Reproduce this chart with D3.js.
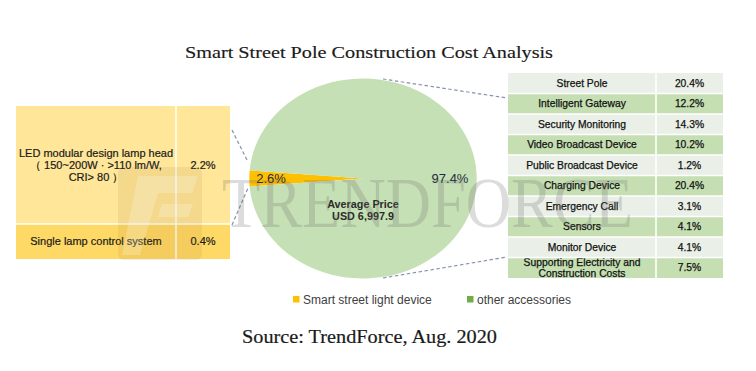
<!DOCTYPE html>
<html>
<head>
<meta charset="utf-8">
<script src="https://cdn.jsdelivr.net/npm/d3@7"></script>
<style>
html,body{margin:0;padding:0;background:#fff;}
svg{display:block;}
</style>
</head>
<body>
<svg id="chart" width="756" height="371"></svg>
<script>
// ---- data ----
const pieCategories = ["Smart street light device", "other accessories"];
const pieValues = [2.6, 97.4];
const centerLabel = ["Average Price", "USD 6,997.9"];

const lightItems = [
  ["LED modular design lamp head", "（ 150~200W · >110 lm/W,", "CRI> 80 ）"],
  ["Single lamp control system"]
];
const lightValues = [2.2, 0.4];

const accessoryItems = [
  ["Street Pole"],
  ["Intelligent Gateway"],
  ["Security Monitoring"],
  ["Video Broadcast Device"],
  ["Public Broadcast Device"],
  ["Charging Device"],
  ["Emergency Call"],
  ["Sensors"],
  ["Monitor Device"],
  ["Supporting Electricity and", "Construction Costs"]
];
const accessoryValues = [20.4, 12.2, 14.3, 10.2, 1.2, 20.4, 3.1, 4.1, 4.1, 7.5];

const titleText = "Smart Street Pole Construction Cost Analysis";
const sourceText = "Source: TrendForce, Aug. 2020";
const watermarkText = "TRENDFORCE";

// ---- drawing ----
const svg = d3.select("#chart");
const SANS = "'Liberation Sans', Arial, sans-serif";
const SERIF = "'Liberation Serif', 'Times New Roman', serif";
const pieColors = d3.scaleOrdinal().domain(pieCategories).range(["#FFC000", "#C5E0B4"]);
const legendColors = d3.scaleOrdinal().domain(pieCategories).range(["#FFC000", "#70AD47"]);
const fmt = v => d3.format(".1f")(v) + "%";

// title
svg.append("text").attr("x", 185).attr("y", 58)
  .attr("font-family", SERIF).attr("font-size", 17).attr("fill", "#1a1a1a")
  .attr("stroke", "#1a1a1a").attr("stroke-width", 0.15)
  .attr("textLength", 368).attr("lengthAdjust", "spacingAndGlyphs")
  .text(titleText);

// ---- left table (smart street light device breakdown) ----
const lx0 = 16, lx1 = 230, lDiv = 176;
const lRowEdges = [106, 224, 259];
const lColors = ["#FFE699", "#FFD966"];
const lg = svg.append("g");
lightItems.forEach((lines, i) => {
  const y0 = lRowEdges[i], y1 = lRowEdges[i + 1];
  lg.append("rect").attr("x", lx0).attr("y", y0).attr("width", lx1 - lx0).attr("height", y1 - y0)
    .attr("fill", lColors[i]);
  const cy = (y0 + y1) / 2;
  const lh = 11.8;
  lines.forEach((t, j) => {
    lg.append("text").attr("x", (lx0 + lDiv) / 2).attr("y", cy + (j - (lines.length - 1) / 2) * lh)
      .attr("dy", "0.35em").attr("text-anchor", "middle")
      .attr("font-family", SANS).attr("font-size", 11).attr("fill", "#1a1a1a")
      .attr("stroke", "#1a1a1a").attr("stroke-width", 0.2).text(t);
  });
  lg.append("text").attr("x", (lDiv + lx1) / 2).attr("y", cy).attr("dy", "0.35em")
    .attr("text-anchor", "middle").attr("font-family", SANS).attr("font-size", 11)
    .attr("fill", "#1a1a1a").attr("stroke", "#1a1a1a").attr("stroke-width", 0.2)
    .text(fmt(lightValues[i]));
});
lg.append("line").attr("x1", lDiv).attr("x2", lDiv).attr("y1", lRowEdges[0]).attr("y2", lRowEdges[2])
  .attr("stroke", "#fff").attr("stroke-width", 1.5);
lg.append("line").attr("x1", lx0).attr("x2", lx1).attr("y1", lRowEdges[1]).attr("y2", lRowEdges[1])
  .attr("stroke", "#fff").attr("stroke-width", 1.5);

// ---- right table (other accessories breakdown) ----
const rx0 = 508, rx1 = 723, rDiv = 656;
const yBand = d3.scaleBand().domain(d3.range(accessoryItems.length)).range([73, 278]).paddingInner(0);
const rColors = ["#EAEFE7", "#C5DFB3"];
const rg = svg.append("g");
accessoryItems.forEach((lines, i) => {
  const y0 = yBand(i), h = yBand.bandwidth(), cy = y0 + h / 2;
  rg.append("rect").attr("x", rx0).attr("y", y0).attr("width", rx1 - rx0).attr("height", h)
    .attr("fill", rColors[i % 2]);
  const lh = 11;
  lines.forEach((t, j) => {
    rg.append("text").attr("x", (rx0 + rDiv) / 2).attr("y", cy + (j - (lines.length - 1) / 2) * lh)
      .attr("dy", "0.35em").attr("text-anchor", "middle")
      .attr("font-family", SANS).attr("font-size", 10.3).attr("fill", "#111")
      .attr("stroke", "#111").attr("stroke-width", 0.25).text(t);
  });
  rg.append("text").attr("x", (rDiv + rx1) / 2).attr("y", cy).attr("dy", "0.35em")
    .attr("text-anchor", "middle").attr("font-family", SANS).attr("font-size", 10.3)
    .attr("fill", "#111").attr("stroke", "#111").attr("stroke-width", 0.25)
    .text(fmt(accessoryValues[i]));
  if (i > 0) {
    rg.append("line").attr("x1", rx0).attr("x2", rx1).attr("y1", y0).attr("y2", y0)
      .attr("stroke", "#fff").attr("stroke-width", 1.6);
  }
});
rg.append("line").attr("x1", rDiv).attr("x2", rDiv).attr("y1", 73).attr("y2", 278)
  .attr("stroke", "#fff").attr("stroke-width", 1.6);

// ---- pie (elliptical) ----
const cx = 363, cy = 178.5, pr = 100, sx = 1.137;
const half = pieValues[0] / d3.sum(pieValues) * Math.PI;
const pie = d3.pie().sort(null).value(d => d)
  .startAngle(-Math.PI / 2 - half).endAngle(-Math.PI / 2 - half + 2 * Math.PI);
const arcs = pie(pieValues);
const arc = d3.arc().innerRadius(0).outerRadius(pr);
const pg = svg.append("g").attr("transform", `translate(${cx},${cy}) scale(${sx},1)`);
pg.selectAll("path").data(arcs).join("path")
  .attr("d", arc).attr("fill", (d, i) => pieColors(pieCategories[i]));

// connector dashed lines
const dash = (x1, y1, x2, y2) => svg.append("line")
  .attr("x1", x1).attr("y1", y1).attr("x2", x2).attr("y2", y2)
  .attr("stroke", "#8593AA").attr("stroke-width", 1.2).attr("stroke-dasharray", "3.5,2.5");
dash(232, 130, 248, 162);
dash(232, 225, 248, 188);
dash(383, 79, 507, 98);
dash(383, 278, 507, 257);

// pie labels
svg.append("text").attr("x", 271).attr("y", cy).attr("dy", "0.35em").attr("text-anchor", "middle")
  .attr("font-family", SANS).attr("font-size", 13).attr("fill", "#1F2A44").text(fmt(pieValues[0]));
svg.append("text").attr("x", 450).attr("y", cy).attr("dy", "0.35em").attr("text-anchor", "middle")
  .attr("font-family", SANS).attr("font-size", 13).attr("fill", "#1F2A44").text(fmt(pieValues[1]));
centerLabel.forEach((t, j) => {
  svg.append("text").attr("x", cx).attr("y", 204.5 + j * 12).attr("dy", "0.35em").attr("text-anchor", "middle")
    .attr("font-family", SANS).attr("font-size", 10.8).attr("font-weight", "bold")
    .attr("fill", "#2b2b2b").text(t);
});

// legend
const legendX = [293, 467];
pieCategories.forEach((c, i) => {
  svg.append("rect").attr("x", legendX[i]).attr("y", 296).attr("width", 6.5).attr("height", 6.5)
    .attr("fill", legendColors(c));
  svg.append("text").attr("x", legendX[i] + 10).attr("y", 299.5).attr("dy", "0.35em")
    .attr("font-family", SANS).attr("font-size", 12).attr("fill", "#404040").text(c);
});

// source
svg.append("text").attr("x", 242).attr("y", 343)
  .attr("font-family", SERIF).attr("font-size", 19).attr("fill", "#1a1a1a")
  .attr("stroke", "#1a1a1a").attr("stroke-width", 0.2)
  .attr("textLength", 255).attr("lengthAdjust", "spacingAndGlyphs")
  .text(sourceText);

// ---- watermark ----
const wm = svg.append("g").attr("pointer-events", "none");
wm.append("rect").attr("x", 118).attr("y", 167).attr("width", 84).attr("height", 93).attr("rx", 6)
  .attr("fill", "rgba(150,110,30,0.10)");
wm.append("path").attr("d", "M138,176 L198,176 L192,193 L158,193 L140,255 L122,255 Z")
  .attr("fill", "rgba(255,255,255,0.22)");
wm.append("path").attr("d", "M162,204 L193,204 L188,217 L158,217 Z")
  .attr("fill", "rgba(255,255,255,0.22)");
wm.append("text").attr("x", 222).attr("y", 227)
  .attr("font-family", SERIF).attr("font-size", 71).attr("fill", "rgba(110,110,110,0.24)")
  .attr("textLength", 411).attr("lengthAdjust", "spacingAndGlyphs")
  .text(watermarkText);
</script>
</body>
</html>
